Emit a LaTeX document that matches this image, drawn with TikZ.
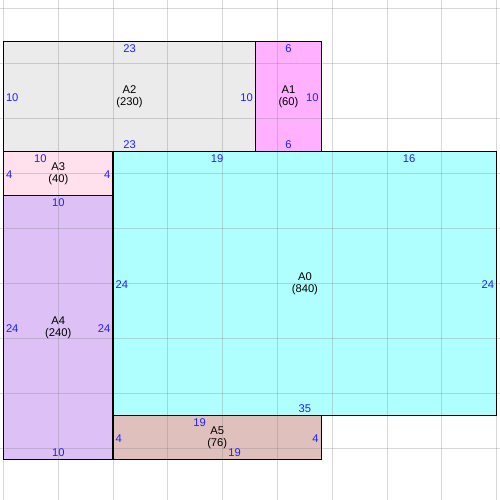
\documentclass[tikz,border=0pt]{standalone}
\usepackage{fontspec}
\setmainfont{Liberation Sans}
\definecolor{lblblue}{HTML}{2020FF}
\definecolor{fillA0}{HTML}{B0FFFF}
\definecolor{fillA1}{HTML}{FFB0FF}
\definecolor{fillA2}{HTML}{EBEBEB}
\definecolor{fillA3}{HTML}{FFE0EC}
\definecolor{fillA4}{HTML}{DCC0F6}
\definecolor{fillA5}{HTML}{E0C0BC}
\definecolor{gridgray}{HTML}{838383}
\tikzset{
  lbl/.style={text=lblblue, font=\fontsize{11.2}{13}\selectfont, inner sep=0pt},
  topl/.style={lbl, anchor=north, yshift=-3pt},
  botl/.style={lbl, anchor=south, yshift=2.6pt},
  leftl/.style={lbl, anchor=west, xshift=2.3pt, yshift=-1pt},
  rightl/.style={lbl, anchor=east, xshift=-2.5pt, yshift=-1pt},
  namel/.style={font=\fontsize{11.2}{13}\selectfont, inner sep=0pt, anchor=base, yshift=2.8pt},
  areal/.style={font=\fontsize{11.2}{13}\selectfont, inner sep=0pt, anchor=base, yshift=-9.5pt},
  rectborder/.style={draw=black, line width=1.2pt},
  gridline/.style={draw=gridgray, draw opacity=0.32, line width=1pt}
}
\begin{document}
\begin{tikzpicture}[x=10.96pt, y=-11pt]
\useasboundingbox (-0.3193,-3.755) rectangle (45.30,41.70);
% fills
\fill[fillA2] (0,0) rectangle (23,10);
\fill[fillA1] (23,0) rectangle (29,10);
\fill[fillA3] (0,10) rectangle (10,14);
\fill[fillA0] (10,10) rectangle (45,34);
\fill[fillA4] (0,14) rectangle (10,38);
\fill[fillA5] (10,34) rectangle (29,38);
% grid
\foreach \gx in {0,5,...,45} { \draw[gridline] (\gx,-3.755) -- (\gx,41.70); }
\foreach \gy in {-3,2,...,37} { \draw[gridline] (-0.3193,\gy) -- (45.30,\gy); }
% borders
\draw[rectborder] (0,0) rectangle (23,10);
\draw[rectborder] (23,0) rectangle (29,10);
\draw[rectborder] (0,10) rectangle (10,14);
\draw[rectborder] (10,10) rectangle (45,34);
\draw[rectborder] (0,14) rectangle (10,38);
\draw[rectborder] (10,34) rectangle (29,38);
% A2
\node[namel] (a2n) at (11.5,5) {A2};
\node[areal] (a2a) at (11.5,5) {(230)};
\node[topl] (a2t) at (11.5,0) {23};
\node[botl] (a2b) at (11.5,10) {23};
\node[leftl] (a2l) at (0,5) {10};
\node[rightl] (a2r) at (23,5) {10};
% A1
\node[namel] (a1n) at (26,5) {A1};
\node[areal] (a1a) at (26,5) {(60)};
\node[topl] (a1t) at (26,0) {6};
\node[botl] (a1b) at (26,10) {6};
\node[rightl] (a1r) at (29,5) {10};
% A3
\node[namel] (a3n) at (5,12) {A3};
\node[areal] (a3a) at (5,12) {(40)};
\node[topl, xshift=-18pt] (a3t) at (5,10) {10};
\node[leftl] (a3l) at (0,12) {4};
\node[rightl] (a3r) at (10,12) {4};
% A0
\node[namel] (a0n) at (27.5,22) {A0};
\node[areal] (a0a) at (27.5,22) {(840)};
\node[topl] (a0t1) at (19.5,10) {19};
\node[topl] (a0t2) at (37,10) {16};
\node[leftl] (a0l) at (10,22) {24};
\node[rightl] (a0r) at (45,22) {24};
\node[botl] (a0b) at (27.5,34) {35};
% A4
\node[namel] (a4n) at (5,26) {A4};
\node[areal] (a4a) at (5,26) {(240)};
\node[topl] (a4t) at (5,14) {10};
\node[botl] (a4b) at (5,38) {10};
\node[leftl] (a4l) at (0,26) {24};
\node[rightl] (a4r) at (10,26) {24};
% A5
\node[namel] (a5n) at (19.5,36) {A5};
\node[areal] (a5a) at (19.5,36) {(76)};
\node[topl, xshift=-17.5pt] (a5t) at (19.5,34) {19};
\node[botl, xshift=17.5pt] (a5b) at (19.5,38) {19};
\node[leftl] (a5l) at (10,36) {4};
\node[rightl] (a5r) at (29,36) {4};
\end{tikzpicture}
\end{document}
